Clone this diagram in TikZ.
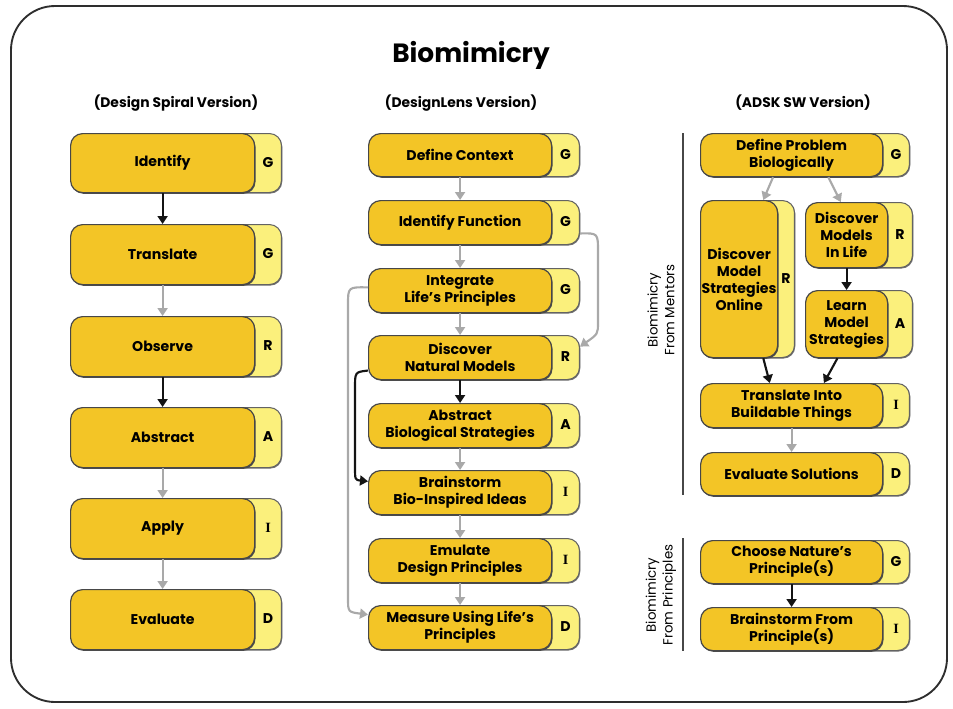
\documentclass[tikz,border=0pt]{standalone}
\usepackage{fontspec}
\setmainfont{Poppins}
\newfontfamily\stagefont{Liberation Serif}
\usetikzlibrary{arrows.meta,shadows}
\definecolor{gold}{HTML}{F3C526}
\definecolor{paleyel}{HTML}{FBF07C}
\definecolor{edge}{HTML}{474747}
\definecolor{arrgray}{HTML}{A9A9A9}
\definecolor{framec}{HTML}{2E2E2E}

% #1 name, #2 left x, #3 top y, #4 right x of main box, #5 right x of tab,
% #6 bottom y, #7 text, #8 stage letter
\newcommand\stagebox[8]{%
  \node[tabbox, anchor=north east,
        minimum width={(#5-#4+30)*0.75pt}, minimum height={(#6-#3)*0.75pt}]
        (#1-tab) at (#5,#3) {};
  \node[mainbox, anchor=north west,
        minimum width={(#4-#2)*0.75pt}, minimum height={(#6-#3)*0.75pt}]
        (#1) at (#2,#3) {#7};
  \node[stageletter] (#1-l) at (#4/2+#5/2, #3/2+#6/2) {#8};
}

\begin{document}
\begin{tikzpicture}[x=0.75pt,y=-0.75pt,
  mainbox/.style={draw=edge, line width=0.9pt, fill=gold, rounded corners=9pt,
    inner sep=0pt, align=center, font=\bfseries\fontsize{10.6}{12.8}\selectfont,
    general shadow={shadow xshift=0.7pt, shadow yshift=-0.9pt, fill=black!70}},
  tabbox/.style={draw=edge!85, line width=0.8pt, fill=paleyel, rounded corners=9pt,
    inner sep=0pt,
    general shadow={shadow xshift=0.6pt, shadow yshift=-0.8pt, fill=black!55}},
  stageletter/.style={font=\bfseries\fontsize{10.6}{12}\selectfont},
  blk/.style={draw=black!92, line width=1.6pt,
    -{Triangle[width=7.5pt,length=6pt]}},
  gry/.style={draw=arrgray, line width=1.6pt,
    -{Triangle[width=7.5pt,length=6pt]}},
  sepline/.style={draw=edge, line width=1.3pt},
  frame/.style={draw=framec, line width=1.4pt, rounded corners=33pt},
  heading/.style={font=\bfseries\fontsize{10.4}{12}\selectfont},
  sidelabel/.style={rotate=90, align=center, font=\fontsize{10}{12.6}\selectfont}
]
\useasboundingbox (0,0) rectangle (953,708);

% outer frame and headings
\draw[frame] (11,6) rectangle (947,702);
\node[font=\bfseries\fontsize{19.8}{24}\selectfont] (title) at (471,55) {Biomimicry};
\node[heading] (h1) at (176,103) {(Design Spiral Version)};
\node[heading] (h2) at (461,103) {(DesignLens Version)};
\node[heading] (h3) at (803,103) {(ADSK SW Version)};

% ---- Design Spiral column
\stagebox{ds1}{70}{133}{254}{282}{192}{Identify}{G}
\stagebox{ds2}{70}{224}{254}{282}{284}{Translate}{G}
\stagebox{ds3}{70}{316}{254}{282}{376}{Observe}{R}
\stagebox{ds4}{70}{407}{254}{282}{467}{Abstract}{A}
\stagebox{ds5}{70}{498}{254}{282}{558}{Apply}{{\stagefont I}}
\stagebox{ds6}{70}{589}{254}{282}{649}{Evaluate}{D}

\draw[blk] (ds1.south) -- (ds2.north);
\draw[gry] (ds2.south) -- (ds3.north);
\draw[blk] (ds3.south) -- (ds4.north);
\draw[gry] (ds4.south) -- (ds5.north);
\draw[gry] (ds5.south) -- (ds6.north);

% ---- DesignLens column
\stagebox{dl1}{368}{133}{551}{580}{176}{Define Context}{G}
\stagebox{dl2}{368}{200}{551}{580}{244}{Identify Function}{G}
\stagebox{dl3}{368}{268}{551}{580}{312}{Integrate\\Life's Principles}{G}
\stagebox{dl4}{368}{335}{551}{580}{379}{Discover\\Natural Models}{R}
\stagebox{dl5}{368}{403}{551}{580}{447}{Abstract\\Biological Strategies}{A}
\stagebox{dl6}{368}{470}{551}{580}{514}{Brainstorm\\Bio-Inspired Ideas}{{\stagefont I}}
\stagebox{dl7}{368}{538}{551}{580}{582}{Emulate\\Design Principles}{{\stagefont I}}
\stagebox{dl8}{368}{605}{551}{580}{649}{Measure Using Life's\\Principles}{D}

\draw[gry] (dl1.south) -- (dl2.north);
\draw[gry] (dl2.south) -- (dl3.north);
\draw[gry] (dl3.south) -- (dl4.north);
\draw[blk] (dl4.south) -- (dl5.north);
\draw[gry] (dl5.south) -- (dl6.north);
\draw[gry] (dl6.south) -- (dl7.north);
\draw[gry] (dl7.south) -- (dl8.north);

% loop-backs beside the column
\draw[gry] (dl2-tab.-20) .. controls (598,233) .. (598,252)
  -- (598,322) .. controls (598,334) .. (dl4-tab.20);
\draw[gry] (dl3.178) .. controls (348,287) .. (348,305)
  -- (348,598) .. controls (348,612) .. (dl8.172);
\draw[blk] (dl4.188) .. controls (355,372) .. (355,388)
  -- (355,466) .. controls (355,480) .. (dl6.173);

% ---- ADSK SW column
\draw[sepline] (683,133) -- (683,495);
\draw[sepline] (683,538) -- (683,651);
\node[sidelabel] (lblm) at (661,310) {Biomimicry\\From Mentors};
\node[sidelabel] (lblp) at (661,595) {Biomimicry\\From Principles};

\stagebox{ad1}{700}{133}{882}{910}{176}{Define Problem\\Biologically}{G}
\stagebox{ad2}{700}{200}{777}{795}{357}{Discover\\Model\\Strategies\\Online}{R}
\stagebox{ad3}{805}{202}{887}{913}{267}{Discover\\Models\\In Life}{R}
\stagebox{ad4}{805}{290}{887}{913}{357}{Learn\\Model\\Strategies}{A}
\stagebox{ad5}{700}{383}{882}{910}{427}{Translate Into\\Buildable Things}{{\stagefont I}}
\stagebox{ad6}{700}{452}{882}{910}{495}{Evaluate Solutions}{D}
\stagebox{ad7}{700}{540}{882}{910}{583}{Choose Nature's\\Principle(s)}{G}
\stagebox{ad8}{700}{607}{882}{910}{650}{Brainstorm From\\Principle(s)}{{\stagefont I}}

\draw[gry] (ad1.-130) -- (ad2.73);
\draw[gry] (ad1.-31) -- (ad3.100);
\draw[blk] (ad3.south) -- (ad4.north);
\draw[blk] (ad2.-73) -- (ad5.134);
\draw[blk] (ad4.-105) -- (ad5.35);
\draw[gry] (ad5.south) -- (ad6.north);
\draw[blk] (ad7.south) -- (ad8.north);
\end{tikzpicture}
\end{document}
